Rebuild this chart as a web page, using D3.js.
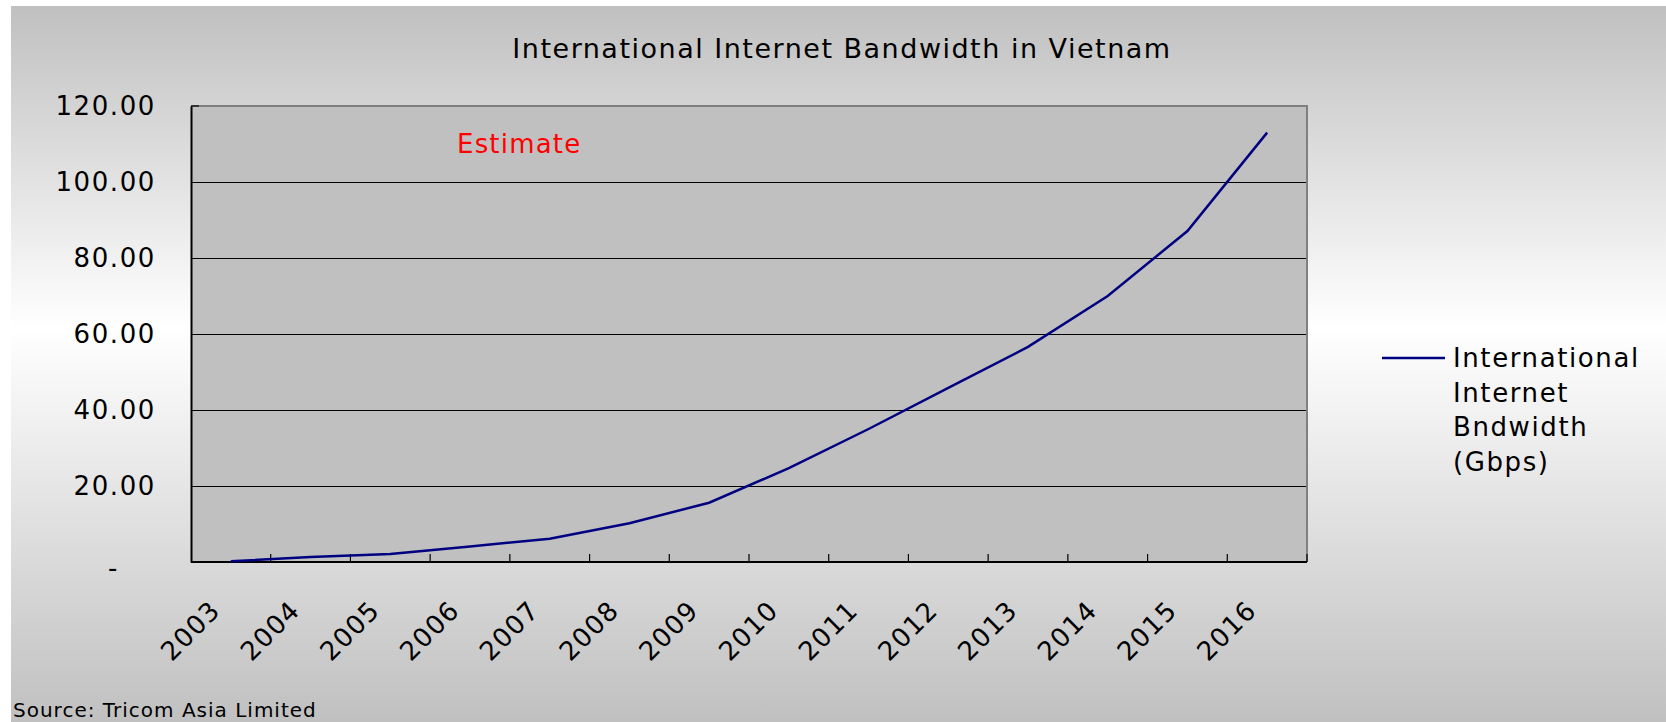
<!DOCTYPE html>
<html>
<head>
<meta charset="utf-8">
<script src="https://cdn.jsdelivr.net/npm/d3@7"></script>
<style>
  body { margin: 0; background: #ffffff; }
  text { font-family: "DejaVu Sans", Verdana, sans-serif; }
</style>
</head>
<body>
<div id="chart"></div>
<script>
var width = 1666;
var height = 722;

// data (Gbps)
var years = ["2003", "2004", "2005", "2006", "2007", "2008", "2009",
             "2010", "2011", "2012", "2013", "2014", "2015", "2016"];
var bandwidth = [0.2, 1.3, 2.1, 4.1, 6.1, 10.2, 15.6,
                 24.7, 35.0, 45.8, 56.6, 70.0, 87.1, 113.0];
var yTicks = [0, 20, 40, 60, 80, 100, 120];
var legendLines = ["International", "Internet", "Bndwidth", "(Gbps)"];

var plot = { left: 191, top: 106, right: 1307, bottom: 562 };

var svg = d3.select("#chart").append("svg")
    .attr("width", width)
    .attr("height", height);

// background gradient gray -> white -> gray
var grad = svg.append("defs").append("linearGradient")
    .attr("id", "bg")
    .attr("x1", 0).attr("y1", 0)
    .attr("x2", 0).attr("y2", 1);
grad.append("stop").attr("offset", "0%").attr("stop-color", "#c0c0c0");
grad.append("stop").attr("offset", "45%").attr("stop-color", "#ffffff");
grad.append("stop").attr("offset", "100%").attr("stop-color", "#c0c0c0");

svg.append("rect")
    .attr("x", 11)
    .attr("y", 6)
    .attr("width", width - 11)
    .attr("height", height - 6)
    .attr("fill", "url(#bg)");

var x = d3.scaleBand()
    .domain(years)
    .range([plot.left, plot.right])
    .padding(0);

var y = d3.scaleLinear()
    .domain([0, 120])
    .range([plot.bottom, plot.top]);

// plot area
svg.append("rect")
    .attr("x", plot.left)
    .attr("y", plot.top)
    .attr("width", plot.right - plot.left)
    .attr("height", plot.bottom - plot.top)
    .attr("fill", "#c0c0c0");

// gridlines
svg.append("g")
    .attr("transform", "translate(" + plot.left + ",0)")
    .call(d3.axisLeft(y).tickValues(yTicks.slice(1, -1)).tickSize(-(plot.right - plot.left)).tickFormat(""))
    .call(function(g) {
        g.select(".domain").remove();
        g.selectAll("line").attr("stroke", "#000000").attr("stroke-width", 1.2);
    });

// plot border (top and right gray)
svg.append("path")
    .attr("d", "M" + plot.left + "," + plot.top + "H" + plot.right + "V" + plot.bottom)
    .attr("fill", "none")
    .attr("stroke", "#808080")
    .attr("stroke-width", 2);

// y axis
var yAxis = svg.append("g")
    .attr("transform", "translate(" + plot.left + ",0)")
    .call(d3.axisLeft(y).tickValues(yTicks).tickSize(0).tickPadding(35)
        .tickFormat(function(d) { return d === 0 ? "-" : d.toFixed(2); }));

yAxis.select(".domain").attr("stroke", "#000000").attr("stroke-width", 2);
yAxis.selectAll("text")
    .attr("font-size", "26px")
    .attr("letter-spacing", "1.6px")
    .attr("fill", "#000000")
    .attr("font-family", "DejaVu Sans");
yAxis.selectAll(".tick").filter(function(d) { return d === 0; })
    .select("text")
    .attr("x", -72)
    .attr("dy", "0.55em");

// small inward tick at top
svg.append("line")
    .attr("x1", plot.left).attr("x2", plot.left + 8)
    .attr("y1", y(120)).attr("y2", y(120))
    .attr("stroke", "#000000").attr("stroke-width", 1.2);

// x axis
var xAxis = svg.append("g")
    .attr("transform", "translate(0," + plot.bottom + ")")
    .call(d3.axisBottom(x).tickSize(0).tickFormat(function(d) { return d; }));

xAxis.select(".domain").remove();
xAxis.selectAll("text")
    .attr("font-size", "26px")
    .attr("letter-spacing", "1.2px")
    .attr("fill", "#000000")
    .attr("font-family", "DejaVu Sans")
    .attr("text-anchor", "end")
    .attr("dy", null)
    .attr("y", null)
    .attr("transform", "translate(-9,50) rotate(-45)");

svg.append("line")
    .attr("x1", plot.left).attr("x2", plot.right)
    .attr("y1", plot.bottom).attr("y2", plot.bottom)
    .attr("stroke", "#000000").attr("stroke-width", 2);

// category boundary ticks pointing up
var boundaries = years.map(function(d) { return x(d); }).concat([x(years[years.length - 1]) + x.bandwidth()]);
svg.append("g").selectAll("line")
    .data(boundaries.slice(1))
    .enter()
    .append("line")
    .attr("x1", function(d) { return d; })
    .attr("x2", function(d) { return d; })
    .attr("y1", plot.bottom)
    .attr("y2", plot.bottom - 8)
    .attr("stroke", "#000000")
    .attr("stroke-width", 1.2);

// the line
var line = d3.line()
    .x(function(d, i) { return x(years[i]) + x.bandwidth() / 2; })
    .y(function(d) { return y(d); });

svg.append("path")
    .datum(bandwidth)
    .attr("d", line)
    .attr("fill", "none")
    .attr("stroke", "#000080")
    .attr("stroke-width", 2.5);

// title
svg.append("text")
    .attr("x", 842)
    .attr("y", 58)
    .attr("text-anchor", "middle")
    .attr("font-size", "27px")
    .attr("letter-spacing", "1.5px")
    .attr("fill", "#000000")
    .text("International Internet Bandwidth in Vietnam");

// estimate note
svg.append("text")
    .attr("x", 457)
    .attr("y", 153)
    .attr("font-size", "26px")
    .attr("letter-spacing", "1.2px")
    .attr("fill", "#ff0000")
    .text("Estimate");

// legend
svg.append("line")
    .attr("x1", 1382).attr("x2", 1445)
    .attr("y1", 358).attr("y2", 358)
    .attr("stroke", "#000080")
    .attr("stroke-width", 2.5);

svg.append("g").selectAll("text")
    .data(legendLines)
    .enter()
    .append("text")
    .attr("x", 1453)
    .attr("y", function(d, i) { return 367 + i * 34.5; })
    .attr("font-size", "26px")
    .attr("letter-spacing", "1.6px")
    .attr("fill", "#000000")
    .text(function(d) { return d; });

// source
svg.append("text")
    .attr("x", 13)
    .attr("y", 717)
    .attr("font-size", "20px")
    .attr("letter-spacing", "1px")
    .attr("fill", "#000000")
    .text("Source: Tricom Asia Limited");
</script>
</body>
</html>
